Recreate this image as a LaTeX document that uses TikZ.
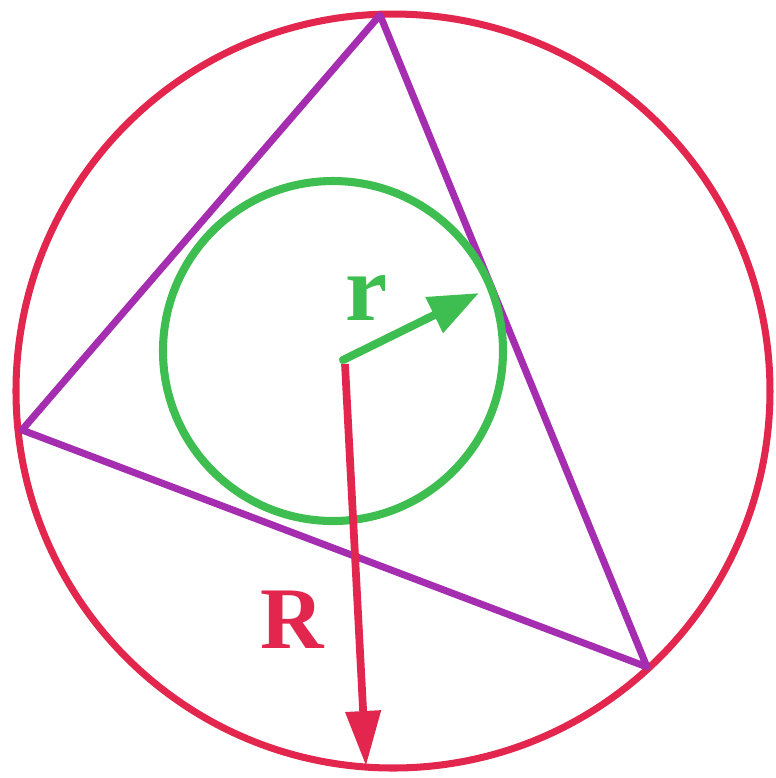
\documentclass[tikz,border=0pt]{standalone}
\usepackage{amsmath,amssymb}
\usepackage{fontspec}
\setmainfont{Liberation Serif}
\usetikzlibrary{arrows.meta,calc}

\definecolor{ringred}{RGB}{226,38,78}
\definecolor{tripurple}{RGB}{165,45,175}
\definecolor{ingreen}{RGB}{62,190,80}

\begin{document}
\begin{tikzpicture}[scale=1]

\useasboundingbox (0,0) rectangle (7.76,-7.78);

% Circumcircle
\coordinate (O) at (3.93,-3.91);
\draw[ringred,line width=2pt] (O) circle (3.77);

% Triangle inscribed in the circle
\coordinate (A) at (3.80,-0.15);
\coordinate (B) at (0.22,-4.30);
\coordinate (C) at (6.47,-6.67);
\draw[tripurple,line width=2pt,line join=round] (A)--(B)--(C)--cycle;

% Incircle
\coordinate (I) at (3.33,-3.51);
\draw[ingreen,line width=2.3pt] (I) circle (1.70);

% Radii from the common start point
\coordinate (S) at (3.45,-3.64);
\coordinate (s) at (3.43,-3.60);
\coordinate (Rtip) at (3.66,-7.66);
\coordinate (rtip) at (4.79,-2.93);

\draw[ringred,line width=2.2pt,-{Triangle[length=0.55cm,width=0.34cm]}] (S)--(Rtip);
\draw[ingreen,line width=2.3pt,line cap=round,-{Triangle[length=0.50cm,width=0.38cm]}] (s)--(rtip);

% Labels
\node[ringred,font=\fontsize{25}{25}\selectfont\bfseries] (Rlab) at (2.92,-6.20) {R};
\node[ingreen,font=\fontsize{27}{27}\selectfont\bfseries] (rlab) at (3.67,-2.98) {r};

\end{tikzpicture}
\end{document}
